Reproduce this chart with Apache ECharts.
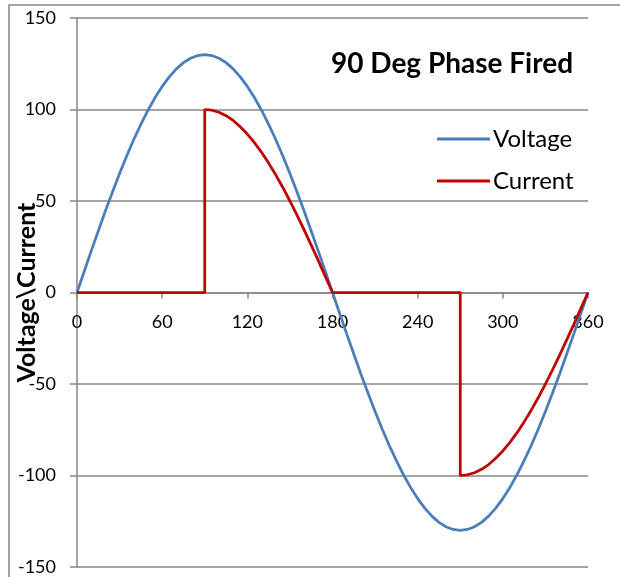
<!DOCTYPE html>
<html>
<head>
<meta charset="utf-8">
<script src="https://cdn.jsdelivr.net/npm/echarts@6/dist/echarts.min.js"></script>
<style>html,body{margin:0;padding:0;background:#fff}#c{width:620px;height:577px}</style>
</head>
<body>
<div id="c"></div>
<script>
// Data (degrees vs value)
const voltageAngles = [0,5,10,15,20,25,30,35,40,45,50,55,60,65,70,75,80,85,90,95,100,105,110,115,120,125,130,135,140,145,150,155,160,165,170,175,180,185,190,195,200,205,210,215,220,225,230,235,240,245,250,255,260,265,270,275,280,285,290,295,300,305,310,315,320,325,330,335,340,345,350,355,360];
const voltageValues = [0,11.3,22.6,33.6,44.5,54.9,65,74.6,83.6,91.9,99.6,106.5,112.6,117.8,122.2,125.6,128,129.5,130,129.5,128,125.6,122.2,117.8,112.6,106.5,99.6,91.9,83.6,74.6,65,54.9,44.5,33.6,22.6,11.3,0,-11.3,-22.6,-33.6,-44.5,-54.9,-65,-74.6,-83.6,-91.9,-99.6,-106.5,-112.6,-117.8,-122.2,-125.6,-128,-129.5,-130,-129.5,-128,-125.6,-122.2,-117.8,-112.6,-106.5,-99.6,-91.9,-83.6,-74.6,-65,-54.9,-44.5,-33.6,-22.6,-11.3,0];
const currentAngles = [0,90,90,95,100,105,110,115,120,125,130,135,140,145,150,155,160,165,170,175,180,270,270,275,280,285,290,295,300,305,310,315,320,325,330,335,340,345,350,355,360];
const currentValues = [0,0,100,99.6,98.5,96.6,94,90.6,86.6,81.9,76.6,70.7,64.3,57.4,50,42.3,34.2,25.9,17.4,8.7,0,0,-100,-99.6,-98.5,-96.6,-94,-90.6,-86.6,-81.9,-76.6,-70.7,-64.3,-57.4,-50,-42.3,-34.2,-25.9,-17.4,-8.7,0];
const xTicks = [0,60,120,180,240,300,360];
const yTicks = [-150,-100,-50,0,50,100,150];

const FONT = 'Lato';
const GRID_TOP = 18, GRID_BOTTOM = 10, H = 577;
const chart = echarts.init(document.getElementById('c'));
chart.setOption({
  animation: false,
  textStyle: {fontFamily: FONT},
  title: {
    text: '90 Deg Phase Fired', left: 326, top: 45,
    textStyle: {fontFamily: FONT, fontWeight: 'bold', fontSize: 28, color: '#000'}
  },
  legend: {
    orient: 'vertical', left: 437, top: 127, padding: 0, itemWidth: 53, itemHeight: 3, itemGap: 18,
    icon: 'rect',
    textStyle: {fontFamily: FONT, fontSize: 24, color: '#000', padding: [0,0,0,-2]},
    data: ['Voltage', 'Current']
  },
  grid: {left: 77, right: 32, top: GRID_TOP, bottom: GRID_BOTTOM, containLabel: false, outerBoundsMode: 'none'},
  xAxis: {
    type: 'value', min: xTicks[0], max: xTicks[xTicks.length-1], interval: 60,
    position: 'bottom',
    offset: -(H - GRID_TOP - GRID_BOTTOM) / 2,
    axisLine: {onZero: false, lineStyle: {color: '#868686', width: 1.5}},
    axisTick: {show: true, length: 6, lineStyle: {color: '#868686', width: 1.5}},
    axisLabel: {color: '#000', fontSize: 18, margin: 21, fontFamily: FONT, hideOverlap: false},
    splitLine: {show: false}
  },
  yAxis: {
    type: 'value', min: yTicks[0], max: yTicks[yTicks.length-1], interval: 50,
    name: 'Voltage\\Current', nameLocation: 'middle', nameGap: 38, nameRotate: 90,
    nameMoveOverlap: false,
    nameTextStyle: {fontFamily: FONT, fontWeight: 'bold', fontSize: 25, color: '#000'},
    axisLine: {show: true, lineStyle: {color: '#868686', width: 1.5}},
    axisTick: {show: true, length: 7, lineStyle: {color: '#868686', width: 1.5}},
    axisLabel: {color: '#000', fontSize: 18, margin: 21, fontFamily: FONT},
    splitLine: {show: true, lineStyle: {color: '#868686', width: 1.5}}
  },
  graphic: [{
    type: 'rect', shape: {x: 9, y: 5, width: 640, height: 600},
    style: {fill: 'none', stroke: '#868686', lineWidth: 1.5}, silent: true
  }],
  series: [
    {
      name: 'Voltage', type: 'line', showSymbol: false, symbol: 'none',
      lineStyle: {color: '#4a7ebb', width: 2.75}, itemStyle: {color: '#4a7ebb'},
      data: voltageAngles.map((a, i) => [a, voltageValues[i]])
    },
    {
      name: 'Current', type: 'line', showSymbol: false, symbol: 'none',
      lineStyle: {color: '#c00000', width: 2.75}, itemStyle: {color: '#c00000'},
      data: currentAngles.map((a, i) => [a, currentValues[i]])
    }
  ]
});
</script>
</body>
</html>
